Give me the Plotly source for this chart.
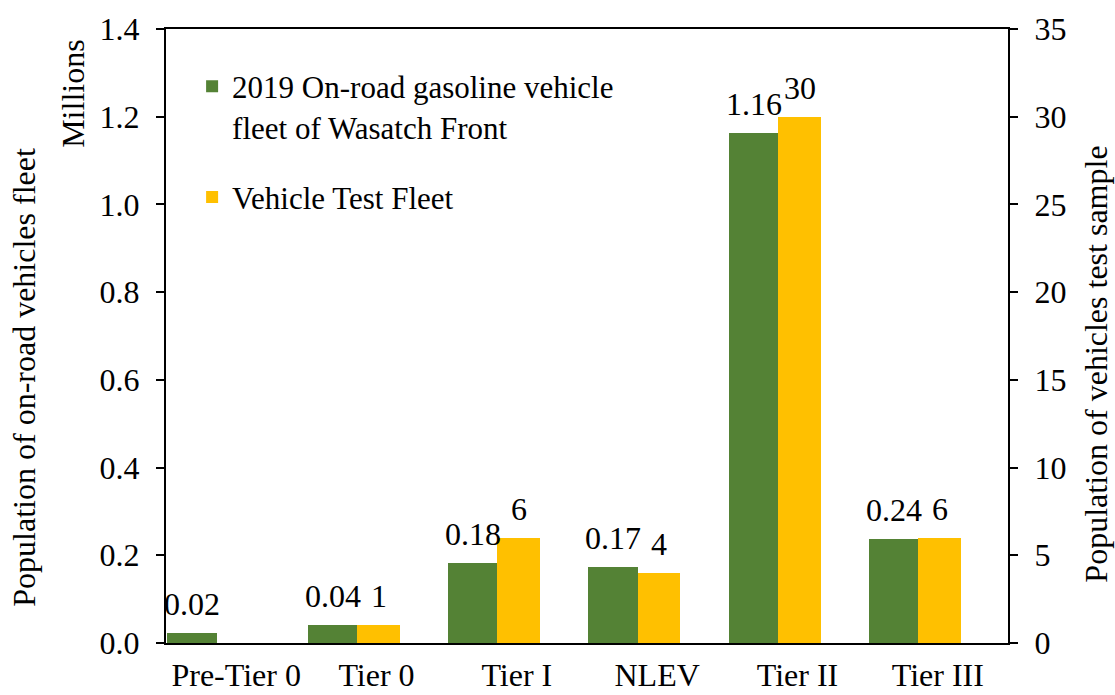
import plotly.graph_objects as go

categories = ["Pre-Tier 0", "Tier 0", "Tier I", "NLEV", "Tier II", "Tier III"]
fleet_millions = [0.023, 0.040, 0.183, 0.173, 1.163, 0.238]
test_fleet = [None, 1, 6, 4, 30, 6]
fleet_name = "2019 On-road gasoline vehicle<br>fleet of Wasatch Front"
test_name = "Vehicle Test Fleet"

GREEN = "#548235"
YELLOW = "#FFC000"
FONT = "Liberation Serif, Times New Roman, serif"
FS = 32

fig = go.Figure()
fig.add_trace(go.Bar(
    x=categories, y=fleet_millions, name=fleet_name,
    marker=dict(color=GREEN, line=dict(width=0)),
    offset=-0.49, width=0.35, yaxis="y", legendgroup="a",
))
fig.add_trace(go.Bar(
    x=categories, y=test_fleet, name=test_name,
    marker=dict(color=YELLOW, line=dict(width=0)),
    offset=-0.14, width=0.305, yaxis="y2", legendgroup="b",
))

annotations = []
for c, v in zip(categories, fleet_millions):
    if v is not None:
        annotations.append(dict(x=c, y=v, xref="x", yref="y", text=f"{v:.2f}",
                                showarrow=False, xanchor="center", yanchor="bottom",
                                xshift=-44, yshift=9, font=dict(family=FONT, size=FS, color="black")))
for c, v in zip(categories, test_fleet):
    if v is not None:
        annotations.append(dict(x=c, y=v, xref="x", yref="y2", text=f"{v:g}",
                                showarrow=False, xanchor="center", yanchor="bottom",
                                xshift=2, yshift=9, font=dict(family=FONT, size=FS, color="black")))

annotations += [
    dict(text="Millions", xref="paper", yref="paper", x=-0.110, y=0.895, textangle=-90,
         showarrow=False, xanchor="center", yanchor="middle",
         font=dict(family=FONT, size=FS, color="black")),
    dict(text="Population of on-road vehicles fleet", xref="paper", yref="paper",
         x=-0.168, y=0.433, textangle=-90, showarrow=False, xanchor="center", yanchor="middle",
         font=dict(family=FONT, size=FS, color="black")),
    dict(text="Population of vehicles test sample", xref="paper", yref="paper",
         x=1.105, y=0.454, textangle=-90, showarrow=False, xanchor="center", yanchor="middle",
         font=dict(family=FONT, size=FS, color="black")),
]

axis_common = dict(showgrid=False, zeroline=False, showline=True, linecolor="black", linewidth=2,
                   ticks="outside", ticklen=8, tickwidth=2, tickcolor="black",
                   ticklabelstandoff=10, automargin=False,
                   tickfont=dict(family=FONT, size=FS, color="black"))

fig.update_layout(
    width=1115, height=695,
    margin=dict(l=166, r=107, t=29, b=52),
    paper_bgcolor="white", plot_bgcolor="white",
    barmode="overlay", bargap=0,
    font=dict(family=FONT, size=FS, color="black"),
    xaxis=dict(showgrid=False, zeroline=False, showline=True, mirror=True, linecolor="black",
               linewidth=2, ticks="", tickfont=dict(family=FONT, size=FS, color="black"),
               ticklabelstandoff=3, automargin=False, range=[-0.5, 5.5]),
    yaxis=dict(range=[0, 1.4], dtick=0.2, tickformat=".1f", **axis_common),
    yaxis2=dict(range=[0, 35], dtick=5, overlaying="y", side="right", **axis_common),
    legend=dict(x=0.031, y=0.95, xanchor="left", yanchor="top", bgcolor="rgba(0,0,0,0)",
                valign="top", tracegroupgap=27, traceorder="grouped",
                font=dict(family=FONT, size=31, color="black")),
    annotations=annotations,
    showlegend=True,
)

fig.write_html("out.html", config={"displayModeBar": False},
               post_script="document.body.style.margin='0';")
